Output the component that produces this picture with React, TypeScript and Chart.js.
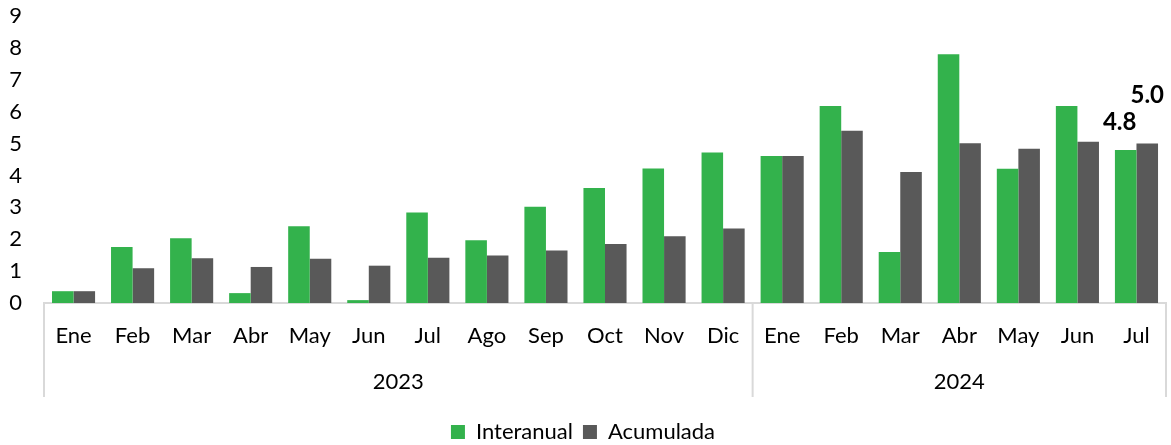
import React, { useEffect, useRef } from "react";
import { Chart, registerables } from "chart.js";

Chart.register(...registerables);

const months = ["Ene", "Feb", "Mar", "Abr", "May", "Jun", "Jul", "Ago", "Sep", "Oct", "Nov", "Dic", "Ene", "Feb", "Mar", "Abr", "May", "Jun", "Jul"];
const yearLabels = ["2023", "2024"];
const monthsPerYear = [12, 7];
const interanual = [0.37, 1.76, 2.03, 0.31, 2.41, 0.09, 2.84, 1.97, 3.02, 3.61, 4.22, 4.72, 4.61, 6.18, 1.6, 7.8, 4.21, 6.18, 4.8];
const acumulada = [0.37, 1.09, 1.4, 1.13, 1.39, 1.17, 1.42, 1.49, 1.65, 1.85, 2.09, 2.34, 4.61, 5.4, 4.11, 5.01, 4.84, 5.06, 5.0];
const yTicks = [0, 1, 2, 3, 4, 5, 6, 7, 8, 9];

const FONT = "Lato, 'Open Sans', sans-serif";
const FS = 22;

const groupAxisPlugin = {
  id: "groupAxis",
  afterDraw(chart: any) {
    const ctx = chart.ctx;
    const x = chart.scales.x;
    const area = chart.chartArea;
    const half = (x.getPixelForValue(1) - x.getPixelForValue(0)) / 2;
    const bottom = area.bottom + 94;
    ctx.save();
    ctx.strokeStyle = "#D9D9D9";
    ctx.lineWidth = 2;
    let start = 0;
    const edges: number[] = [];
    monthsPerYear.forEach((n, i) => {
      const x0 = x.getPixelForValue(start) - half;
      const x1 = x.getPixelForValue(start + n - 1) + half;
      edges.push(x0);
      if (i === monthsPerYear.length - 1) edges.push(x1);
      ctx.fillStyle = "#000";
      ctx.font = FS + "px " + FONT;
      ctx.textAlign = "center";
      ctx.textBaseline = "middle";
      ctx.fillText(yearLabels[i], (x0 + x1) / 2, area.bottom + 79);
      start += n;
    });
    edges.forEach((ex) => {
      ctx.beginPath();
      ctx.moveTo(ex, area.bottom);
      ctx.lineTo(ex, bottom);
      ctx.stroke();
    });
    ctx.restore();
  },
};

const lastLabelPlugin = {
  id: "lastLabel",
  afterDatasetsDraw(chart: any, _args: any, opts: any) {
    const ctx = chart.ctx;
    ctx.save();
    ctx.fillStyle = "#000";
    ctx.font = "bold 24px " + FONT;
    ctx.textAlign = "center";
    ctx.textBaseline = "middle";
    chart.data.datasets.forEach((ds: any, i: number) => {
      const meta = chart.getDatasetMeta(i);
      const idx = ds.data.length - 1;
      const el = meta.data[idx];
      const off = opts.offsets[i];
      ctx.fillText(Number(ds.data[idx]).toFixed(1), el.x + off.dx, el.y - off.dy);
    });
    ctx.restore();
  },
};

export default function App() {
  const ref = useRef<HTMLCanvasElement>(null);
  useEffect(() => {
    if (!ref.current) return;
    const chart = new Chart(ref.current, {
      type: "bar",
      data: {
        labels: months,
        datasets: [
          { label: "Interanual", data: interanual, backgroundColor: "#33B24C" },
          { label: "Acumulada", data: acumulada, backgroundColor: "#595959" },
        ],
      },
      options: {
        responsive: false,
        animation: false,
        layout: { padding: { top: 16, right: 5, left: 0, bottom: 0 } },
        datasets: { bar: { categoryPercentage: 0.73, barPercentage: 1 } },
        scales: {
          x: {
            grid: { display: false, drawTicks: false },
            border: { display: true, color: "#D9D9D9", width: 2 },
            ticks: { font: { size: FS, family: FONT }, color: "#000", padding: 20, maxRotation: 0, autoSkip: false },
            afterFit: (s: any) => { s.height = 108; s.paddingLeft = 0; s.paddingRight = 0; },
          },
          y: {
            min: 0,
            max: 9,
            afterBuildTicks: (s: any) => { s.ticks = yTicks.map((v) => ({ value: v })); },
            grid: { display: false, drawTicks: false },
            border: { display: false },
            ticks: { font: { size: FS, family: FONT }, color: "#000", padding: 22 },
            afterFit: (s: any) => { s.width = 44; s.paddingTop = 0; s.paddingBottom = 0; },
          },
        },
        plugins: {
          legend: {
            position: "bottom",
            maxHeight: 34,
            labels: { font: { size: FS, family: FONT }, color: "#000", boxWidth: 14, boxHeight: 14, padding: 10 },
          },
          tooltip: { enabled: false },
          lastLabel: { offsets: [{ dx: -6, dy: 28 }, { dx: 0, dy: 48 }] },
        } as any,
      },
      plugins: [groupAxisPlugin, lastLabelPlugin],
    });
    return () => chart.destroy();
  }, []);
  return (
    <div style={{ position: "fixed", left: 0, top: 0, width: 1171, height: 445, background: "#fff" }}>
      <canvas ref={ref} width={1171} height={445} style={{ display: "block" }} />
    </div>
  );
}
